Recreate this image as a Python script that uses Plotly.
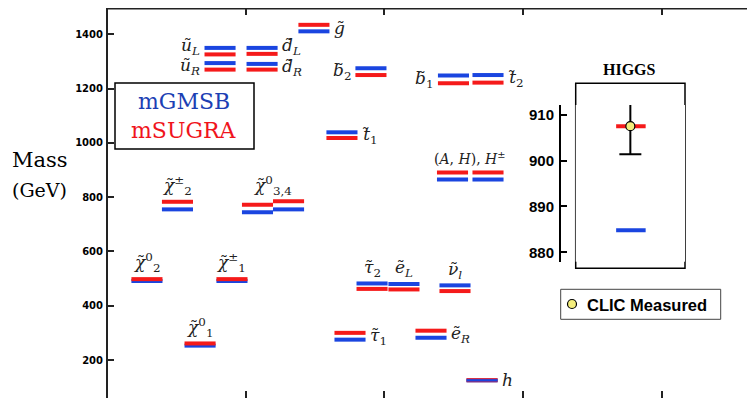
import plotly.graph_objects as go

# ---------------- data ----------------
particles = ["u_L", "u_R", "d_L", "d_R", "g", "b2", "b1", "t2", "t1", "A,H", "H+-",
             "chi2+-", "chi3", "chi4", "chi20", "chi1+-", "chi10",
             "tau2", "eL", "nu", "tau1", "eR", "h"]
mgmsb_mass = [1350, 1294, 1350, 1291, 1411, 1275, 1248, 1250, 1039, 865, 865,
              755, 744, 755, 491, 491, 253,
              482, 480, 475, 275, 282, 125]
msugra_mass = [1326, 1270, 1328, 1270, 1435, 1250, 1220, 1222, 1018, 891, 891,
               783, 772, 785, 498, 498, 261,
               462, 460, 454, 300, 308, 125.5]

higgs_models = ["mGMSB", "mSUGRA"]
higgs_model_mass = [884.8, 907.5]
clic_measured = 907.5
clic_err_plus = 7.3
clic_err_minus = 6.1

y_ticks = [200, 400, 600, 800, 1000, 1200, 1400]
higgs_ticks = [880, 890, 900, 910]

# ---------------- layout helpers ----------------
# the page body has an 8px margin: the figure is drawn from (8, 8) of the window
OFF = 8
W, H = 755 - OFF, 398 - OFF
L = 107 - OFF
PW, PH = W - L, H
UNIT = 138.7                     # px per x unit
XMAX = PW / UNIT
YR = [60, 1497]

# slot (x-centre) for each particle, in x units
slot = [0.815, 0.815, 1.118, 1.118, 1.492, 1.903, 2.498, 2.747, 1.694, 2.491, 2.747,
        0.508, 1.085, 1.309, 0.288, 0.901, 0.671,
        1.911, 2.141, 2.509, 1.752, 2.336, 2.704]
HW = 0.112
BLUE = "#1a45e0"
RED = "#f51a1a"
OVERLAY_BLUE = {"h"}   # where the blue level sits on top of the red one


def px(x):   # window pixel -> paper x
    return (x - 107) / PW


def py(y):   # window pixel -> paper y
    return 1 - (y - 8) / PH


def segs(vals, keep=None):
    xs, ys = [], []
    for name, c, v in zip(particles, slot, vals):
        if keep is not None and name not in keep:
            continue
        xs += [c - HW, c + HW, None]
        ys += [v, v, None]
    return xs, ys


fig = go.Figure()
bx, by = segs(mgmsb_mass)
rx, ry = segs(msugra_mass)
ox, oy = segs(mgmsb_mass, OVERLAY_BLUE)
fig.add_trace(go.Scatter(x=bx, y=by, mode="lines", line=dict(color=BLUE, width=4),
                         showlegend=False, hoverinfo="skip"))
fig.add_trace(go.Scatter(x=rx, y=ry, mode="lines", line=dict(color=RED, width=4),
                         showlegend=False, hoverinfo="skip"))
fig.add_trace(go.Scatter(x=ox, y=oy, mode="lines", line=dict(color=BLUE, width=2.5),
                         showlegend=False, hoverinfo="skip"))

# Higgs inset
fig.add_trace(go.Scatter(x=[0.37, 0.64], y=[higgs_model_mass[0]] * 2,
                         mode="lines", line=dict(width=4, color=BLUE),
                         xaxis="x2", yaxis="y2", showlegend=False, hoverinfo="skip"))
fig.add_trace(go.Scatter(x=[0.37, 0.64], y=[higgs_model_mass[1]] * 2,
                         mode="lines", line=dict(width=4, color=RED),
                         xaxis="x2", yaxis="y2", showlegend=False, hoverinfo="skip"))
fig.add_trace(go.Scatter(x=[0.5], y=[clic_measured], mode="markers",
                         marker=dict(size=9, color="#f4ee7c", line=dict(color="black", width=1.2)),
                         error_y=dict(type="data", symmetric=False, array=[clic_err_plus],
                                      arrayminus=[clic_err_minus], color="black",
                                      thickness=2, width=11),
                         xaxis="x2", yaxis="y2", showlegend=False, hoverinfo="skip"))

# ---------------- labels ----------------
SER = "DejaVu Serif"

labels = [
    # text, particle indices, side, vertical nudge (GeV)
    ("<i>u</i>\u0303<sub><i>L</i></sub>", [0], "left", 18),
    ("<i>u</i>\u0303<sub><i>R</i></sub>", [1], "left", 0),
    ("<i>d</i>\u0303<sub><i>L</i></sub>", [2], "right", 15),
    ("<i>d</i>\u0303<sub><i>R</i></sub>", [3], "right", -3),
    ("<i>g</i>\u0303", [4], "right", 0),
    ("<i>b</i>\u0303<sub>2</sub>", [5], "left", 0),
    ("<i>b</i>\u0303<sub>1</sub>", [6], "left", 0),
    ("<i>t</i>\u0303<sub>2</sub>", [7], "right", 0),
    ("<i>t</i>\u0303<sub>1</sub>", [8], "right", 0),
    ("<i>χ</i>\u0303<sup>±</sup><sub>2</sub>", [11], "above", 0),
    ("<i>χ</i>\u0303<sup>0</sup><sub>3,4</sub>", [12, 13], "above", 0),
    ("<i>χ</i>\u0303<sup>0</sup><sub>2</sub>", [14], "above", 0),
    ("<i>χ</i>\u0303<sup>±</sup><sub>1</sub>", [15], "above", 0),
    ("<i>χ</i>\u0303<sup>0</sup><sub>1</sub>", [16], "above", 0),
    ("<i>τ</i>\u0303<sub>2</sub>", [17], "above", 0),
    ("<i>e</i>\u0303<sub><i>L</i></sub>", [18], "above", 0),
    ("<i>ν</i>\u0303<sub><i>l</i></sub>", [19], "above", 0),
    ("<i>τ</i>\u0303<sub>1</sub>", [20], "right", 0),
    ("<i>e</i>\u0303<sub><i>R</i></sub>", [21], "right", 0),
    ("<i>h</i>", [22], "right", 0),
    ("(<i>A</i>, <i>H</i>), <i>H</i><sup>±</sup>", [9, 10], "above", 8),
]

annotations = []
for text, idx, side, nudge in labels:
    xs = [slot[i] for i in idx]
    ms = [mgmsb_mass[i] for i in idx] + [msugra_mass[i] for i in idx]
    size = 14 if "A" in text else 17
    if side == "left":
        ax, ay, xa, ya = min(xs) - HW - 0.025, sum(ms) / len(ms), "right", "middle"
    elif side == "right":
        ax, ay, xa, ya = max(xs) + HW + 0.025, sum(ms) / len(ms), "left", "middle"
    else:
        ax, ay, xa, ya = sum(xs) / len(xs), max(ms) + 10, "center", "bottom"
    annotations.append(dict(x=ax, y=ay + nudge, xref="x", yref="y", text=text, showarrow=False,
                            xanchor=xa, yanchor=ya, borderpad=0,
                            font=dict(family=SER, size=size, color="#222")))


def note(x, y, text, font, xanchor="center"):
    return dict(x=px(x), y=py(y), xref="paper", yref="paper", text=text, showarrow=False,
                xanchor=xanchor, yanchor="middle", font=font)


annotations += [
    note(40, 160, "Mass", dict(family=SER, size=21, color="black")),
    note(39, 190, "(GeV)", dict(family=SER, size=19, color="black")),
    note(184, 101, "mGMSB", dict(family=SER, size=22, color="#1c3fb4")),
    note(184, 130, "mSUGRA", dict(family=SER, size=22, color="#f0141c")),
    note(629, 70, "<b>HIGGS</b>", dict(family="Liberation Serif", size=16, color="black")),
    note(585, 304.5, "<b>CLIC Measured</b>", dict(family="Liberation Sans", size=16.5, color="black"),
         xanchor="left"),
]

shapes = [
    # main axis lines (left and top)
    dict(type="line", xref="paper", yref="paper", x0=0, x1=0, y0=0, y1=1,
         line=dict(color="#222", width=2)),
    dict(type="line", xref="paper", yref="paper", x0=0, x1=1, y0=py(8.8), y1=py(8.8),
         line=dict(color="#222", width=1.5)),
    # model legend box
    dict(type="rect", xref="paper", yref="paper", x0=px(115), x1=px(254), y0=py(149), y1=py(83),
         line=dict(color="black", width=1.5), fillcolor="white", layer="below"),
    # higgs box
    dict(type="rect", xref="paper", yref="paper", x0=px(575.7), x1=px(685), y0=py(268.3), y1=py(83.3),
         line=dict(color="black", width=1.5), fillcolor="white", layer="below"),
    # CLIC legend box
    dict(type="rect", xref="paper", yref="paper", x0=px(560.7), x1=px(720.7), y0=py(319.3), y1=py(289.3),
         line=dict(color="#444", width=1), fillcolor="white", layer="below"),
    dict(type="circle", xref="paper", yref="paper", x0=px(567.5), x1=px(576.5), y0=py(308.5), y1=py(299.5),
         line=dict(color="black", width=1.2), fillcolor="#f4ee7c"),
]

fig.update_layout(
    width=W, height=H, margin=dict(l=L, r=0, t=0, b=0, autoexpand=False),
    paper_bgcolor="white", plot_bgcolor="white",
    showlegend=False,
    xaxis=dict(range=[0, XMAX], tickvals=[1, 2, 3, 4], ticks="inside", ticklen=7, tickwidth=1.5,
               tickcolor="#222", showticklabels=False, showgrid=False, zeroline=False,
               showline=False, mirror="ticks", automargin=False),
    yaxis=dict(range=YR, tickvals=y_ticks, ticks="inside", ticklen=7, tickwidth=1.5,
               tickcolor="#222", showgrid=False, zeroline=False, showline=False,
               mirror="ticks", ticklabelstandoff=3, automargin=False,
               tickfont=dict(family="DejaVu Sans", size=10, color="black", weight="bold")),
    xaxis2=dict(domain=[px(575.7), px(685)], range=[0, 1], anchor="y2", visible=False,
                automargin=False),
    yaxis2=dict(domain=[py(261.7), py(105)], range=[877.95, 912.11], anchor="free",
                position=px(560), tickvals=higgs_ticks, ticks="inside", ticklen=6,
                tickwidth=2, tickcolor="black", showline=True, linewidth=2, linecolor="black",
                showgrid=False, zeroline=False, ticklabelstandoff=2, automargin=False,
                tickfont=dict(family="Liberation Sans", size=15, color="black", weight="bold")),
    annotations=annotations,
    shapes=shapes,
)

fig.write_html("out.html")
